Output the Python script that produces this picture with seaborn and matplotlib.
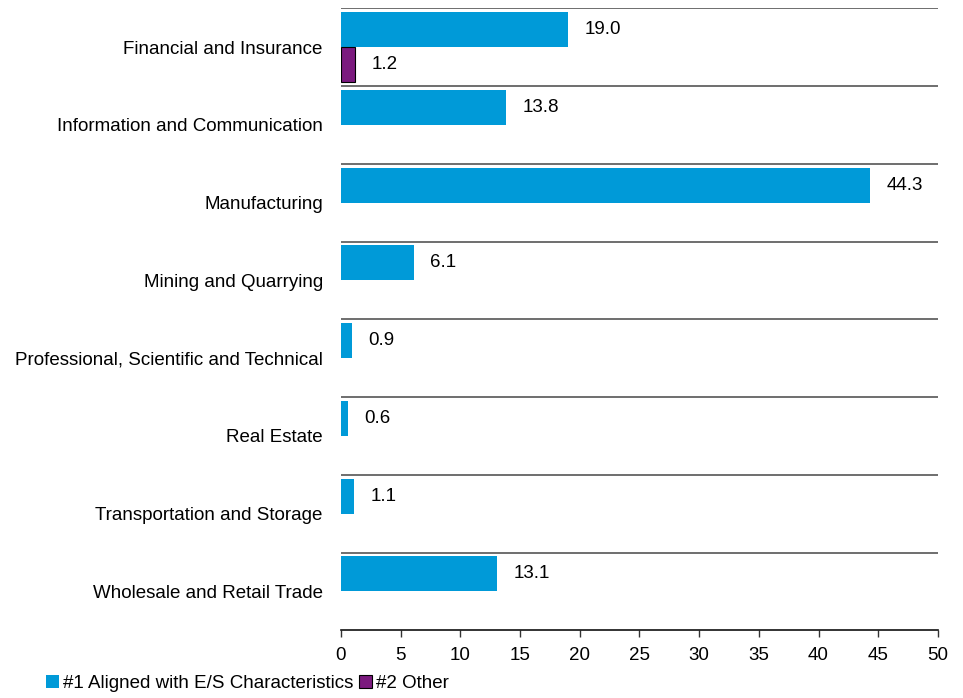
import numpy as np
import pandas as pd
import seaborn as sns
import matplotlib.pyplot as plt
from matplotlib.patches import Patch

sectors = ['Financial and Insurance', 'Information and Communication', 'Manufacturing',
           'Mining and Quarrying', 'Professional, Scientific and Technical', 'Real Estate',
           'Transportation and Storage', 'Wholesale and Retail Trade']
aligned = [19.0, 13.8, 44.3, 6.1, 0.9, 0.6, 1.1, 13.1]
other = [1.2, np.nan, np.nan, np.nan, np.nan, np.nan, np.nan, np.nan]
series_names = ['#1 Aligned with E/S Characteristics', '#2 Other']
colors = ['#009ad8', '#7b1a7e']

df = pd.DataFrame({
    'Sector': sectors * 2,
    'Value': aligned + other,
    'Series': [series_names[0]] * len(sectors) + [series_names[1]] * len(sectors),
})

sns.set_theme(style='white')
plt.rcParams['font.family'] = ['Liberation Sans', 'DejaVu Sans']
plt.rcParams['text.color'] = 'black'
plt.rcParams['xtick.color'] = 'black'
plt.rcParams['ytick.color'] = 'black'

fig, ax = plt.subplots(figsize=(9.63, 6.98), dpi=100)
fig.subplots_adjust(left=0.354, right=0.974, top=0.988, bottom=0.097)

sns.barplot(data=df, y='Sector', x='Value', hue='Series', palette=colors,
            orient='h', width=0.9, saturation=1, ax=ax, legend=False)

for cont, name in zip(ax.containers, series_names):
    for bar in cont:
        if name == series_names[1]:
            bar.set_edgecolor('black')
            bar.set_linewidth(0.8)
        else:
            bar.set_linewidth(0)
    ax.bar_label(cont, fmt='%.1f', padding=12, fontsize=13.5, color='black')

# separator lines at top of each category
for i in range(len(sectors)):
    ax.axhline(i - 0.5, color='#555555', lw=1.2, zorder=0)

ax.set_xlim(0, 50)
ax.set_ylim(len(sectors) - 0.5, -0.5)
ax.set_xticks(range(0, 51, 5))
ax.set_xlabel('')
ax.set_ylabel('')
ax.tick_params(axis='x', which='both', bottom=True, direction='out', length=5,
               width=1, color='#333333', labelsize=13.5, pad=7)
ax.tick_params(axis='y', left=False, length=0, labelsize=13.5, pad=13)
for s in ['top', 'right', 'left']:
    ax.spines[s].set_visible(False)
ax.spines['bottom'].set_color('#111111')
ax.spines['bottom'].set_linewidth(1.2)

handles = [Patch(facecolor=colors[0], edgecolor='none'),
           Patch(facecolor=colors[1], edgecolor='black', linewidth=0.8)]
fig.legend(handles, series_names, loc='lower left', bbox_to_anchor=(0.03, -0.016),
           ncol=2, frameon=False, fontsize=13.5, handlelength=0.7, handleheight=0.7,
           handletextpad=0.2, columnspacing=0.3)

fig.savefig('out.png', dpi=100)
